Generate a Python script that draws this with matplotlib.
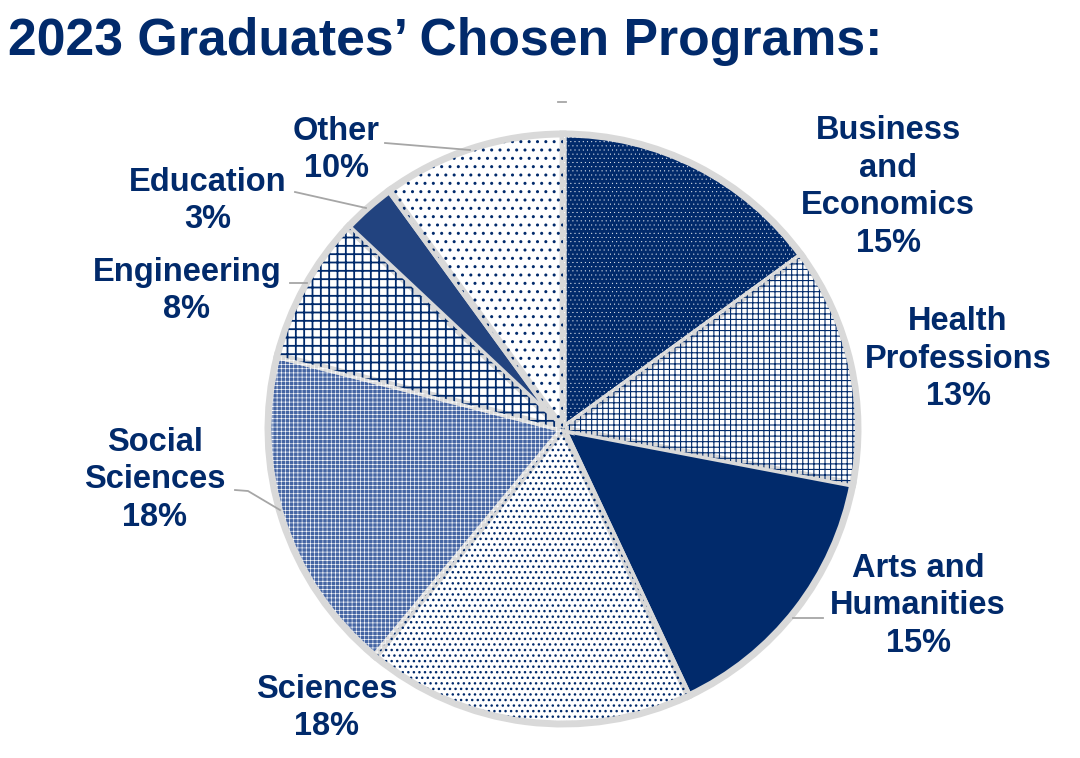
import matplotlib
matplotlib.use("Agg")
import matplotlib.pyplot as plt

# data
programs = ["Business\nand\nEconomics", "Health\nProfessions", "Arts and\nHumanities",
            "Sciences", "Social\nSciences", "Engineering", "Education", "Other"]
shares = [15, 13, 15, 18, 18, 8, 3, 10]

# styling per slice
navy = "#012a6b"
face_colors = [navy, "#ffffff", navy, "#ffffff", "#4565a3", "#ffffff", "#22437f", "#ffffff"]
hatches = ["....", "+++", None, "...", "++++", "++", None, ".."]
hatch_colors = ["#ffffff", navy, navy, navy, "#ffffff", navy, navy, navy]
hatch_widths = [0.2, 0.8, 1.0, 1.0, 0.45, 1.3, 1.0, 1.0]

# label layout (image pixels, centre of text block)
label_pos = [(888, 187), (958, 359), (918, 606), (327, 708),
             (155, 480), (187, 291), (208, 201), (336, 150)]
leaders = [
    [(385, 143), (470, 150)],
    [(295, 192), (366, 208)],
    [(290, 283), (307, 283)],
    [(235, 490), (248, 491), (280, 510)],
    [(793, 618), (823, 618)],
    [(558, 102), (566, 102)],
]

W, H = 1080, 758
fig = plt.figure(figsize=(W / 100, H / 100), dpi=100)
ax = fig.add_axes([0, 0, 1, 1])

cx, cy, r = 563, H - 429, 295

# base pie: fills and light grey separators
wedges, _ = ax.pie(shares, startangle=90, counterclock=False, center=(cx, cy), radius=r,
                   colors=face_colors, frame=True,
                   wedgeprops=dict(edgecolor="#d9d9d9", linewidth=5))

# hatch overlay
over, _ = ax.pie(shares, startangle=90, counterclock=False, center=(cx, cy), radius=r - 3,
                 colors=["none"] * len(shares), frame=True,
                 wedgeprops=dict(linewidth=0))
for w, h, hc, hw in zip(over, hatches, hatch_colors, hatch_widths):
    w.set_facecolor("none")
    w.set_edgecolor(hc)
    w.set_linewidth(0)
    if hasattr(w, "set_hatch_linewidth"):
        w.set_hatch_linewidth(hw)
    if h:
        w.set_hatch(h)

ax.set_xlim(0, W)
ax.set_ylim(0, H)
ax.set_aspect("equal")
ax.axis("off")

for name, pct, (x, y) in zip(programs, shares, label_pos):
    ax.text(x, H - y, f"{name}\n{pct}%", ha="center", va="center", color=navy,
            fontsize=23.5, fontweight="bold", family="Liberation Sans", linespacing=1.27)

for pts in leaders:
    xs = [p[0] for p in pts]
    ys = [H - p[1] for p in pts]
    ax.plot(xs, ys, color="#a6a6a6", lw=1.3)

fig.text(8 / W, 1 - 55 / H, "2023 Graduates\u2019 Chosen Programs:", ha="left", va="baseline",
         color=navy, fontsize=37.3, fontweight="bold", family="Liberation Sans")

fig.savefig("out.png", dpi=100)
